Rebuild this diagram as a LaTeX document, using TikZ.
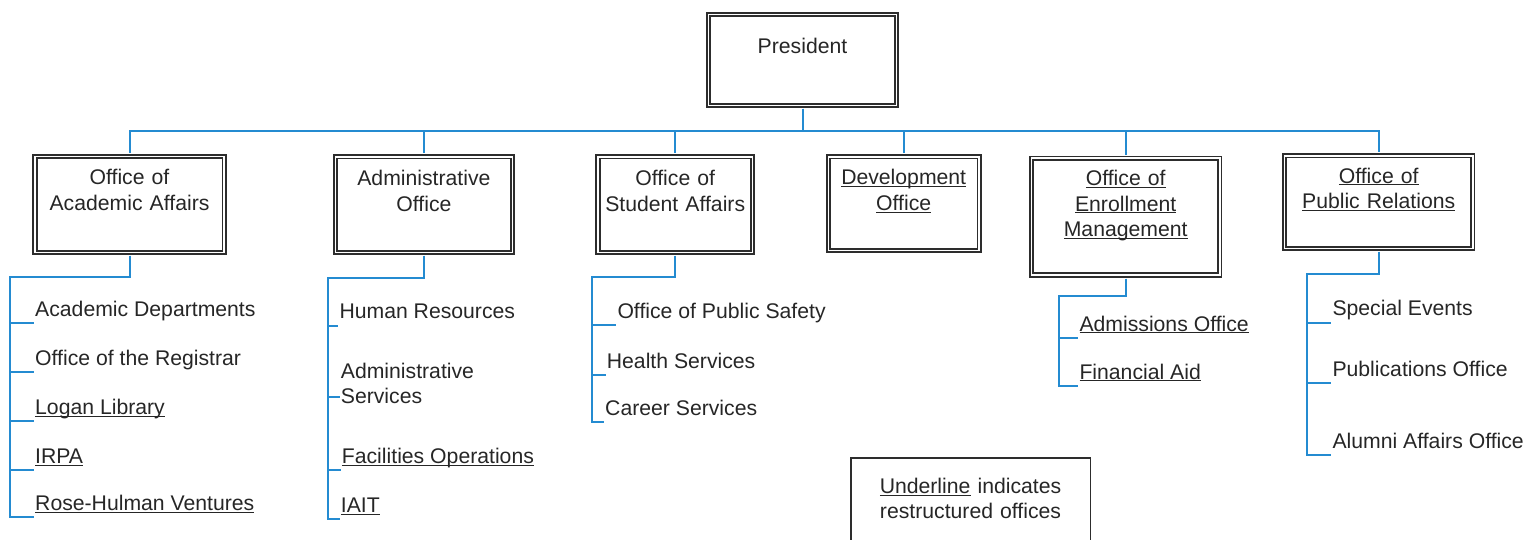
\documentclass[tikz,border=0pt]{standalone}
\usepackage{fontspec}
\setmainfont{Liberation Sans}
\definecolor{linkblue}{RGB}{36,139,209}
\definecolor{boxgray}{RGB}{45,45,45}
\definecolor{textgray}{RGB}{38,38,38}
\newcommand\undl[1]{\underline{\smash{#1}}}
\tikzset{
  orgbox/.style={draw=boxgray, double, double distance=1.6pt, line width=1.8pt,
    inner sep=0pt, align=center, anchor=base},
  item/.style={anchor=base west, inner xsep=1pt, inner ysep=0pt},
  link/.style={draw=linkblue, line width=2pt},
}
\begin{document}
\begin{tikzpicture}[x=1pt, y=-1pt, font=\fontsize{21.2}{25.5}\selectfont, text=textgray]
    \useasboundingbox (0,0) rectangle (1527,540);

    \node[orgbox, text width=187.8pt, text height=38.9pt, text depth=51.9pt] (pres) at (802.5,53.5) {President};

    \node[orgbox, text width=189.2pt, text height=28.4pt, text depth=67.4pt] (acad) at (129.5,185) {Office of\\Academic Affairs};
    \node[orgbox, text width=177.1pt, text height=28.8pt, text depth=66.7pt] (admin) at (423.9,185.7) {Administrative\\Office};
    \node[orgbox, text width=154.5pt, text height=28.8pt, text depth=66.7pt] (stud) at (675.2,185.7) {Office of\\Student Affairs};
    \node[orgbox, text width=150.8pt, text height=28.1pt, text depth=65.7pt] (dev) at (903.7,185) {\undl{Development}\\\undl{Office}};
    \node[orgbox, text width=188.1pt, text height=27.4pt, text depth=89.4pt] (enrol) at (1125.7,185.7) {\undl{Office of}\\\undl{Enrollment}\\\undl{Management}};
    \node[orgbox, text width=188.1pt, text height=27.4pt, text depth=65.1pt] (pubrel) at (1378.7,183.3) {\undl{Office of}\\\undl{Public Relations}};

    % academic affairs
    \node[item] (acaddept) at (34,316.7) {Academic Departments};
    \node[item] (registrar) at (34,365.5) {Office of the Registrar};
    \node[item] (logan) at (34,414.3) {\undl{Logan Library}};
    \node[item] (irpa) at (34,463.3) {\undl{IRPA}};
    \node[item] (rhv) at (34,510.7) {\undl{Rose-Hulman Ventures}};
    % administrative office
    \node[item] (hr) at (338.3,319) {Human Resources};
    \node[item, text width=160pt] (adsvc) at (339.7,378) {Administrative\\Services};
    \node[item] (facil) at (340.7,463.3) {\undl{Facilities Operations}};
    \node[item] (iait) at (339.7,512.7) {\undl{IAIT}};
    % student affairs
    \node[item] (safety) at (616.3,318.3) {Office of Public Safety};
    \node[item] (health) at (605.7,368.3) {Health Services};
    \node[item] (career) at (604,415.7) {Career Services};
    % enrollment management
    \node[item] (admis) at (1078.3,331) {\undl{Admissions Office}};
    \node[item] (finaid) at (1078.3,379) {\undl{Financial Aid}};
    % public relations
    \node[item] (events) at (1331.3,316) {Special Events};
    \node[item] (pubs) at (1331.3,376.7) {Publications Office};
    \node[item] (alumni) at (1331.3,448.3) {Alumni Affairs Office};

    \node[draw=boxgray, line width=1.5pt, inner sep=0pt, align=center, anchor=base,
      text width=239.5pt, text height=35.5pt, text depth=60pt] (legend) at (970.5,493.3)
      {\undl{Underline} indicates\\restructured offices};

    \coordinate (acadbend) at (9.5,277.3);
    \coordinate (adminbend) at (328.3,277.7);
    \coordinate (studbend) at (592.3,276.7);
    \coordinate (enrolbend) at (1058.7,296);
    \coordinate (pubrelbend) at (1306.7,274.3);

    \foreach \b in {acad,admin,stud,dev,enrol,pubrel}
      \draw[link, shorten <=2.6pt, shorten >=2.6pt] (pres.south) -- ++(0,24.6) -| (\b.north);

    \foreach \t in {acaddept,registrar,logan,irpa,rhv}
      \draw[link, shorten <=2.6pt] (acad.south) |- (acadbend) |- ([yshift=-6.5pt]\t.base west);
    \foreach \t in {hr,facil,iait}
      \draw[link, shorten <=2.6pt] (admin.south) |- (adminbend) |- ([yshift=-6.5pt]\t.base west);
    \draw[link, shorten <=2.6pt] (admin.south) |- (adminbend) |- ([yshift=-18.7pt]adsvc.base west);
    \foreach \t in {safety,health,career}
      \draw[link, shorten <=2.6pt] (stud.south) |- (studbend) |- ([yshift=-6.5pt]\t.base west);
    \foreach \t in {admis,finaid}
      \draw[link, shorten <=2.6pt] (enrol.south) |- (enrolbend) |- ([yshift=-6.5pt]\t.base west);
    \foreach \t in {events,pubs,alumni}
      \draw[link, shorten <=2.6pt] (pubrel.south) |- (pubrelbend) |- ([yshift=-6.5pt]\t.base west);
\end{tikzpicture}
\end{document}
